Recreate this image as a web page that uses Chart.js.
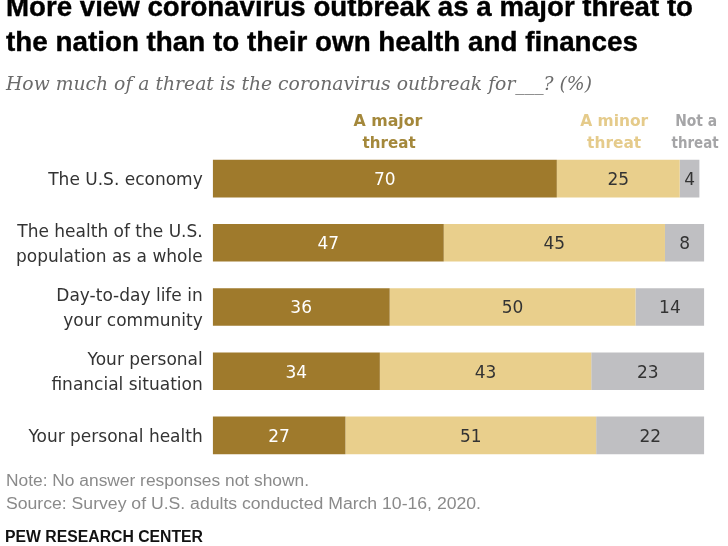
<!DOCTYPE html>
<html>
<head>
<meta charset="utf-8">
<script src="https://cdn.jsdelivr.net/npm/chart.js@4.4.1/dist/chart.umd.min.js"></script>
<style>
  html, body { margin:0; padding:0; background:#fff; }
  #wrap { position:relative; width:728px; height:546px; overflow:hidden; background:#fff; }
  canvas { position:absolute; left:0; top:0; }
  .t { position:absolute; white-space:nowrap; line-height:1; }
  .title { font-family:"Liberation Sans",Arial,sans-serif; font-weight:bold; font-size:28px; color:#000; left:6px; transform-origin:left top; -webkit-text-stroke:0.4px #000; }
  .sub { font-family:"DejaVu Serif","Liberation Serif",serif; font-style:italic; font-size:18px; color:#6b6b6b; left:6px; transform-origin:left top; }
  .leg { font-family:"DejaVu Sans",sans-serif; font-weight:bold; font-size:16px; transform-origin:center top; }
  .foot { font-family:"Liberation Sans",Arial,sans-serif; font-size:16px; color:#8a8a8a; left:6px; transform-origin:left top; }
  .pew { font-family:"Liberation Sans",Arial,sans-serif; font-weight:bold; font-size:16px; color:#111; left:5px; transform-origin:left top; }
</style>
</head>
<body>
<div id="wrap">
  <canvas id="c" width="728" height="546"></canvas>
  <div class="t title" data-base="17" data-w="687">More view coronavirus outbreak as a major threat to</div>
  <div class="t title" data-base="52" data-w="632">the nation than to their own health and finances</div>
  <div class="t sub" data-base="90" data-w="586">How much of a threat is the coronavirus outbreak for___? (%)</div>
  <div class="t leg" data-base="127" data-cx="388" data-w="69" style="color:#a4883b">A major</div>
  <div class="t leg" data-base="149" data-cx="389" data-w="53" style="color:#a4883b">threat</div>
  <div class="t leg" data-base="127" data-cx="614" data-w="68" style="color:#e5cb8b">A minor</div>
  <div class="t leg" data-base="149" data-cx="614" data-w="54" style="color:#e5cb8b">threat</div>
  <div class="t leg" data-base="127" data-cx="696" data-w="42" style="color:#a5a5a7">Not a</div>
  <div class="t leg" data-base="149" data-cx="695" data-w="47" style="color:#a5a5a7">threat</div>
  <div class="t foot" data-base="487" data-w="303">Note: No answer responses not shown.</div>
  <div class="t foot" data-base="510" data-w="475">Source: Survey of U.S. adults conducted March 10-16, 2020.</div>
  <div class="t pew" data-base="543" data-w="198">PEW RESEARCH CENTER</div>
</div>
<script>
const categories = [
  ["The U.S. economy"],
  ["The health of the U.S.", "population as a whole"],
  ["Day-to-day life in", "your community"],
  ["Your personal", "financial situation"],
  ["Your personal health"]
];
const majorThreat = [70, 47, 36, 34, 27];
const minorThreat = [25, 45, 50, 43, 51];
const notAThreat  = [4, 8, 14, 23, 22];
const seriesNames = ["A major threat", "A minor threat", "Not a threat"];

// position HTML texts
document.querySelectorAll('.t').forEach(el => {
  const fs = parseFloat(getComputedStyle(el).fontSize);
  const base = parseFloat(el.dataset.base);
  el.style.top = (base - 0.846 * fs) + 'px';
  const w = el.getBoundingClientRect().width;
  const target = parseFloat(el.dataset.w);
  const s = target / w;
  if (el.dataset.cx) {
    el.style.left = (parseFloat(el.dataset.cx) - w / 2) + 'px';
  }
  el.style.transform = 'scaleX(' + s + ')';
});

const valueLabels = {
  id: 'valueLabels',
  afterDatasetsDraw(chart) {
    const ctx = chart.ctx;
    ctx.save();
    ctx.font = '17px "DejaVu Sans", sans-serif';
    ctx.textAlign = 'center';
    ctx.textBaseline = 'middle';
    chart.data.datasets.forEach((ds, di) => {
      const meta = chart.getDatasetMeta(di);
      meta.data.forEach((el, i) => {
        const p = el.getProps(['x', 'y', 'base'], true);
        ctx.fillStyle = di === 0 ? '#ffffff' : '#333333';
        ctx.fillText(String(ds.data[i]), (p.x + p.base) / 2, p.y + 2);
      });
    });
    ctx.restore();
  }
};

new Chart(document.getElementById('c'), {
  type: 'bar',
  data: {
    labels: categories,
    datasets: [
      { label: seriesNames[0], data: majorThreat, backgroundColor: '#9f7a2c' },
      { label: seriesNames[1], data: minorThreat, backgroundColor: '#e9cf8c' },
      { label: seriesNames[2], data: notAThreat, backgroundColor: '#bfbfc2' }
    ]
  },
  options: {
    indexAxis: 'y',
    responsive: false,
    animation: false,
    layout: { padding: { left: 0, top: 146.5, bottom: 78.5, right: 23.7 } },
    datasets: { bar: { barPercentage: 0.586, categoryPercentage: 1, borderWidth: 0 } },
    plugins: { legend: { display: false }, tooltip: { enabled: false } },
    scales: {
      x: { stacked: true, min: 0, max: 100, display: false },
      y: {
        stacked: true,
        grid: { display: false, drawTicks: false },
        border: { display: false },
        ticks: {
          color: '#333333',
          padding: 10,
          labelOffset: 2,
          font: { family: '"DejaVu Sans", sans-serif', size: 17, lineHeight: 1.47 }
        },
        afterFit(scale) { scale.width = 212.7; }
      }
    }
  },
  plugins: [valueLabels]
});
</script>
</body>
</html>
